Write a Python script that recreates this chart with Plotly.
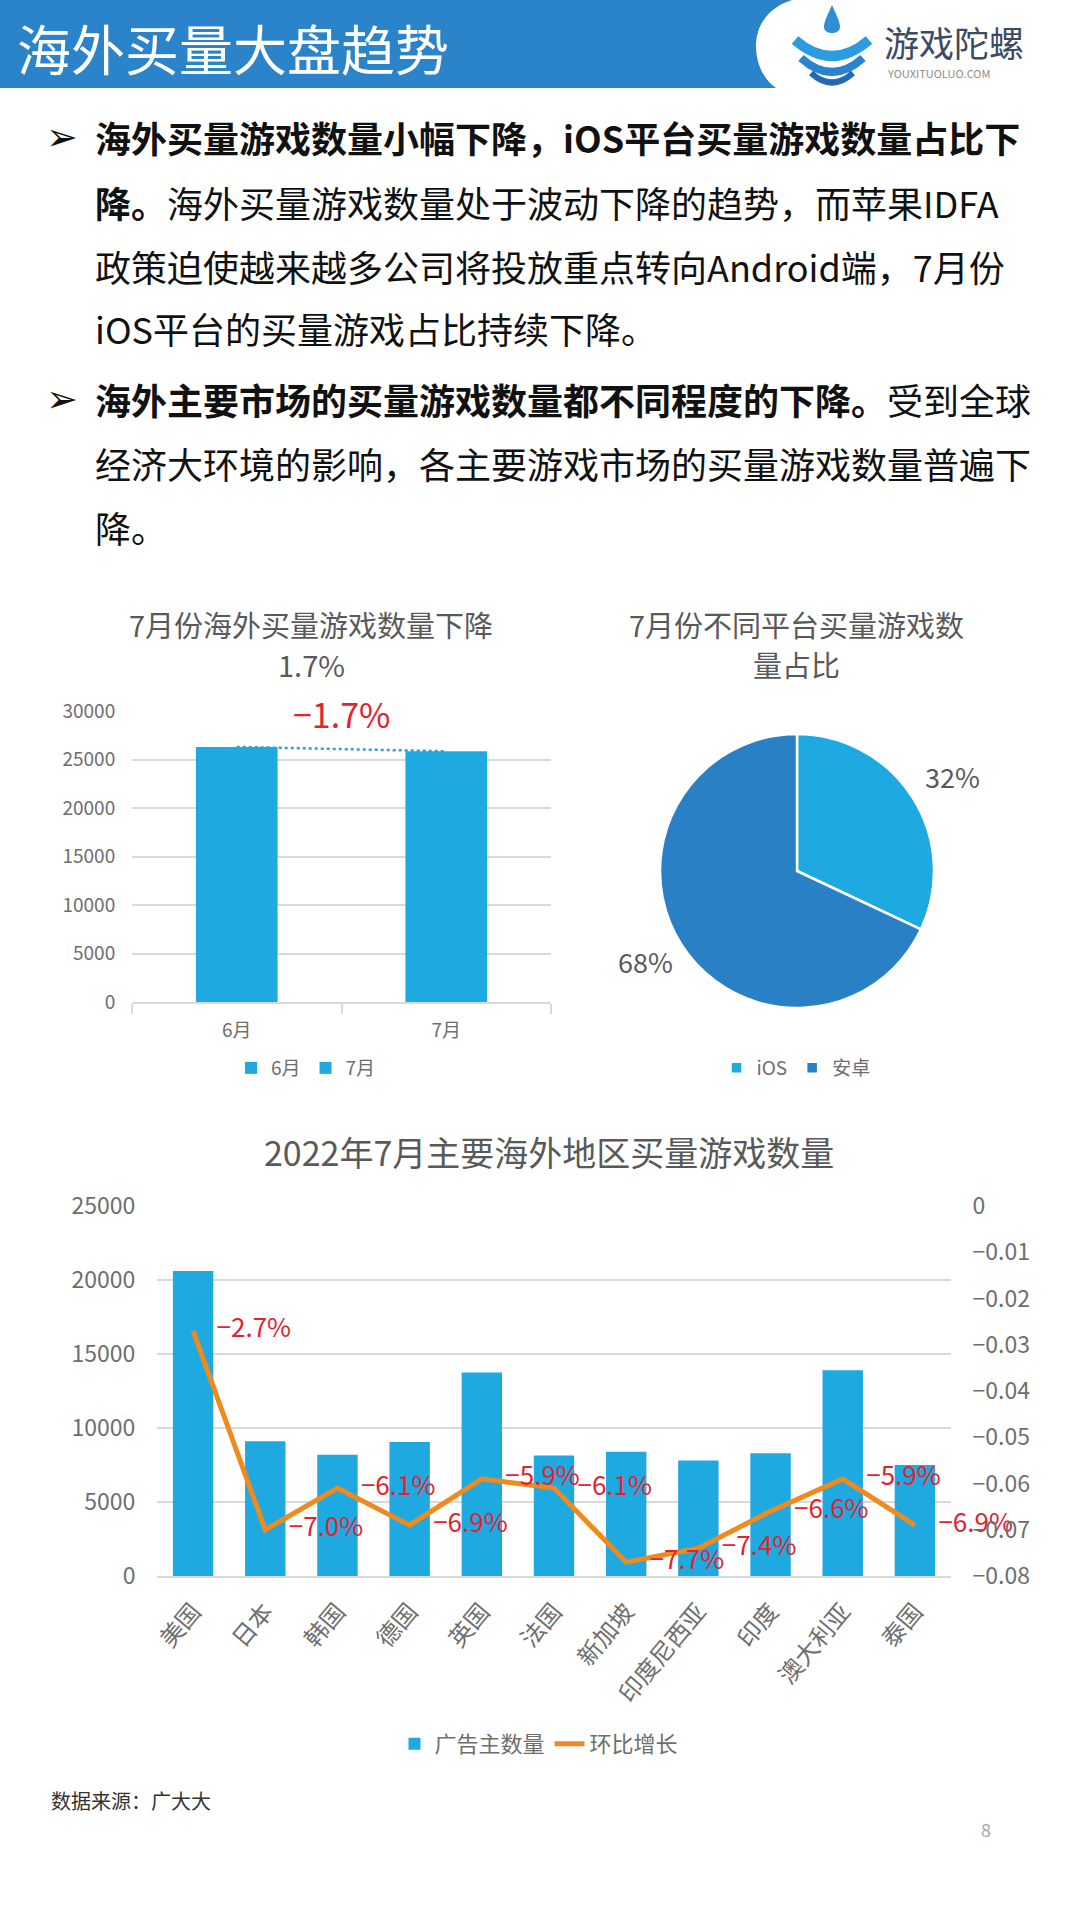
import math
import plotly.graph_objects as go

W, H = 1080, 1920


def X(px):
    return px / W


def Y(py):
    return 1 - py / H


def P(px, py):
    return f"{X(px):.5f},{Y(py):.5f}"


# ---------------- data ----------------
months = ["6月", "7月"]
month_counts = [26300, 25850]

platforms = ["iOS", "安卓"]
platform_share = [32, 68]

regions = ["美国", "日本", "韩国", "德国", "英国", "法国", "新加坡", "印度尼西亚", "印度", "澳大利亚", "泰国"]
advertisers = [20600, 9100, 8200, 9050, 13750, 8150, 8400, 7800, 8300, 13900, 7500]
mom_growth = [-0.027, -0.070, -0.061, -0.069, -0.059, -0.061, -0.077, -0.074, -0.066, -0.059, -0.069]

bullet_lines = [
    ("<b>海外买量游戏数量小幅下降，iOS平台买量游戏数量占比下</b>", True),
    ("<b>降。</b>海外买量游戏数量处于波动下降的趋势，而苹果IDFA", False),
    ("政策迫使越来越多公司将投放重点转向Android端，7月份", False),
    ("iOS平台的买量游戏占比持续下降。", False),
    ("<b>海外主要市场的买量游戏数量都不同程度的下降。</b>受到全球", True),
    ("经济大环境的影响，各主要游戏市场的买量游戏数量普遍下", False),
    ("降。", False),
]
bullet_y = [137, 202, 266, 328, 399, 463, 527]

# ---------------- style ----------------
FONT = "Noto Sans CJK SC"
BLUE = "#1FA9E1"
DBLUE = "#2A80C5"
ORANGE = "#EE8A1E"
RED = "#E2232F"
GRID = "#D9D9D9"
AXG = "#6E6E6E"
TG = "#595959"

PIE_CX, PIE_CY, PIE_R = 797, 871, 137

fig = go.Figure()

# top-left bar chart (one trace per month so each has a legend entry)
for m, v in zip(months, month_counts):
    fig.add_trace(go.Bar(
        x=[m], y=[v], name=m, marker=dict(color=BLUE, line=dict(width=0)),
        width=0.39, xaxis="x", yaxis="y", legend="legend", hoverinfo="skip"))
fig.add_trace(go.Scatter(
    x=months, y=month_counts, mode="lines", showlegend=False,
    line=dict(color="#2E9FD8", width=2.5, dash="dot"),
    xaxis="x", yaxis="y", hoverinfo="skip"))

# pie chart
fig.add_trace(go.Pie(
    labels=platforms, values=platform_share, sort=False, direction="clockwise",
    rotation=0, marker=dict(colors=[BLUE, DBLUE], line=dict(color="white", width=2.5)),
    textinfo="none",
    domain=dict(x=[X(PIE_CX - PIE_R), X(PIE_CX + PIE_R)],
                y=[Y(PIE_CY + PIE_R), Y(PIE_CY - PIE_R)]),
    legend="legend2", hoverinfo="skip", showlegend=True, automargin=False))

# bottom combo chart
fig.add_trace(go.Bar(
    x=regions, y=advertisers, name="广告主数量", marker=dict(color=BLUE, line=dict(width=0)),
    width=0.56, xaxis="x2", yaxis="y2", legend="legend3", hoverinfo="skip"))
growth_text = ["\u2212" + f"{abs(v) * 100:.1f}%" for v in mom_growth]
fig.add_trace(go.Scatter(
    x=regions, y=mom_growth, name="环比增长", mode="lines+markers+text",
    line=dict(color=ORANGE, width=5), marker=dict(size=36, color="rgba(0,0,0,0)"),
    text=growth_text, textposition="middle right",
    textfont=dict(size=26, color=RED, family=FONT), cliponaxis=False,
    xaxis="x2", yaxis="y3", legend="legend3", hoverinfo="skip"))

# ---------------- shapes (header) ----------------
shapes = [
    dict(type="path", xref="paper", yref="paper", layer="below",
         path=f"M {P(0,0)} L {P(792,0)} C {P(766,8)} {P(756,28)} {P(756,46)} "
              f"C {P(756,64)} {P(764,80)} {P(776,88)} L {P(0,88)} Z",
         fillcolor="#2B84C9", line=dict(width=0)),
    dict(type="path", xref="paper", yref="paper",
         path=f"M {P(832,5)} C {P(827,16)} {P(824,22)} {P(824,27)} C {P(824,35)} {P(840,35)} "
              f"{P(840,27)} C {P(840,22)} {P(837,16)} {P(832,5)} Z",
         fillcolor="#2E8FD6", line=dict(width=0)),
    dict(type="path", xref="paper", yref="paper",
         path=f"M {P(795,40)} Q {P(832,72)} {P(869,40)}",
         line=dict(color="#2C9BE0", width=10)),
    dict(type="path", xref="paper", yref="paper",
         path=f"M {P(801,58)} Q {P(832,86)} {P(863,58)}",
         line=dict(color="#2A84CD", width=8)),
    dict(type="path", xref="paper", yref="paper",
         path=f"M {P(811,73)} Q {P(832,92)} {P(853,73)}",
         line=dict(color="#2368B2", width=6)),
]

# ---------------- annotations ----------------
ann = []


def txt(x, y, text, size, color, xanchor="left", yanchor="middle", family=FONT):
    ann.append(dict(x=X(x), y=Y(y), xref="paper", yref="paper", text=text,
                    showarrow=False, xanchor=xanchor, yanchor=yanchor,
                    font=dict(family=family, size=size, color=color)))


txt(15, 47, "海外买量大盘趋势", 54, "white")
txt(882, 42, "游戏陀螺", 35, "#3B4B66")
txt(885, 73, "YOUXITUOLUO.COM", 11, "#8C8C8C")

for (line, is_bullet), yy in zip(bullet_lines, bullet_y):
    if is_bullet:
        txt(44, yy, "➢", 38, "#111111", family="DejaVu Sans")
    txt(93, yy, line, 36, "#111111")

txt(311, 624, "7月份海外买量游戏数量下降", 29, TG, xanchor="center")
txt(311, 664, "1.7%", 29, TG, xanchor="center")
txt(796, 624, "7月份不同平台买量游戏数", 29, TG, xanchor="center")
txt(796, 664, "量占比", 29, TG, xanchor="center")

# pie percentage labels, placed along each slice's mid-angle
total = sum(platform_share)
cum = 0
for share in platform_share:
    mid = (cum + share / 2) / total * 2 * math.pi
    cum += share
    lr = PIE_R * 1.33
    txt(PIE_CX + lr * math.sin(mid) + 2, PIE_CY - lr * math.cos(mid) + 3 - 10 * (mid > math.pi),
        f"{share}%", 27, TG, xanchor="center")

change = month_counts[1] / month_counts[0] - 1
ann.append(dict(x=0.5, y=29700, xref="x", yref="y", showarrow=False,
                text=("\u2212" if change < 0 else "") + f"{abs(change) * 100:.1f}%",
                xanchor="center", yanchor="middle",
                font=dict(family=FONT, size=34, color=RED)))

txt(549, 1151, "2022年7月主要海外地区买量游戏数量", 34, TG, xanchor="center")
txt(49, 1800, "数据来源：广大大", 20, "#333333")
txt(986, 1829, "8", 18, "#A6A6A6", xanchor="center")

# ---------------- layout ----------------
fig.update_layout(
    width=W, height=H, autosize=False,
    margin=dict(l=0, r=0, t=0, b=0, pad=0, autoexpand=False),
    paper_bgcolor="white", plot_bgcolor="white",
    barmode="overlay",
    font=dict(family=FONT, color=AXG),
    xaxis=dict(domain=[X(132), X(551)], anchor="y", type="category", range=[-0.5, 1.5],
               showline=True, linecolor=GRID, linewidth=1.5, ticks="outside",
               tickson="boundaries", ticklen=10, tickcolor=GRID, tickwidth=1.5,
               ticklabelstandoff=10,
               showgrid=False, tickfont=dict(size=19, color=AXG), fixedrange=True,
               automargin=False),
    yaxis=dict(domain=[Y(1002), Y(711)], anchor="x", range=[0, 30000], dtick=5000,
               tickformat="d", showgrid=True, gridcolor=GRID, gridwidth=1.5,
               zeroline=False, ticks="outside", ticklen=12, tickcolor="rgba(0,0,0,0)",
               tickfont=dict(size=19, color=AXG), fixedrange=True, automargin=False),
    xaxis2=dict(domain=[X(157), X(951)], anchor="y2", type="category", range=[-0.5, 10.5],
                showline=True, linecolor=GRID, linewidth=1.5, ticks="outside",
                ticklen=10, tickcolor="rgba(0,0,0,0)", tickangle=-50, showgrid=False,
                tickfont=dict(size=24, color=AXG), fixedrange=True, automargin=False),
    yaxis2=dict(domain=[Y(1576), Y(1206)], anchor="x2", range=[0, 25000], dtick=5000,
                tickformat="d", showgrid=True, gridcolor=GRID, gridwidth=1.5,
                zeroline=False, ticks="outside", ticklen=16, tickcolor="rgba(0,0,0,0)",
                tickfont=dict(size=23, color=AXG), fixedrange=True, automargin=False),
    yaxis3=dict(overlaying="y2", side="right", anchor="x2", range=[-0.08, 0], dtick=0.01,
                showgrid=False, zeroline=False, ticks="outside", ticklen=16,
                tickcolor="rgba(0,0,0,0)", tickfont=dict(size=23, color=AXG),
                fixedrange=True, automargin=False),
    legend=dict(orientation="h", x=X(306), y=Y(1068), xanchor="center", yanchor="middle",
                font=dict(size=19, color=AXG), bgcolor="rgba(0,0,0,0)"),
    legend2=dict(orientation="h", x=X(796), y=Y(1068), xanchor="center", yanchor="middle",
                 font=dict(size=19, color=AXG), bgcolor="rgba(0,0,0,0)"),
    legend3=dict(orientation="h", x=X(539), y=Y(1744), xanchor="center", yanchor="middle",
                 font=dict(size=22, color=AXG), bgcolor="rgba(0,0,0,0)"),
    shapes=shapes,
    annotations=ann,
    showlegend=True,
)

fig.write_html(
    "out.html",
    config={"displayModeBar": False},
    post_script="document.body.style.margin='0px';document.body.style.padding='0px';",
)
